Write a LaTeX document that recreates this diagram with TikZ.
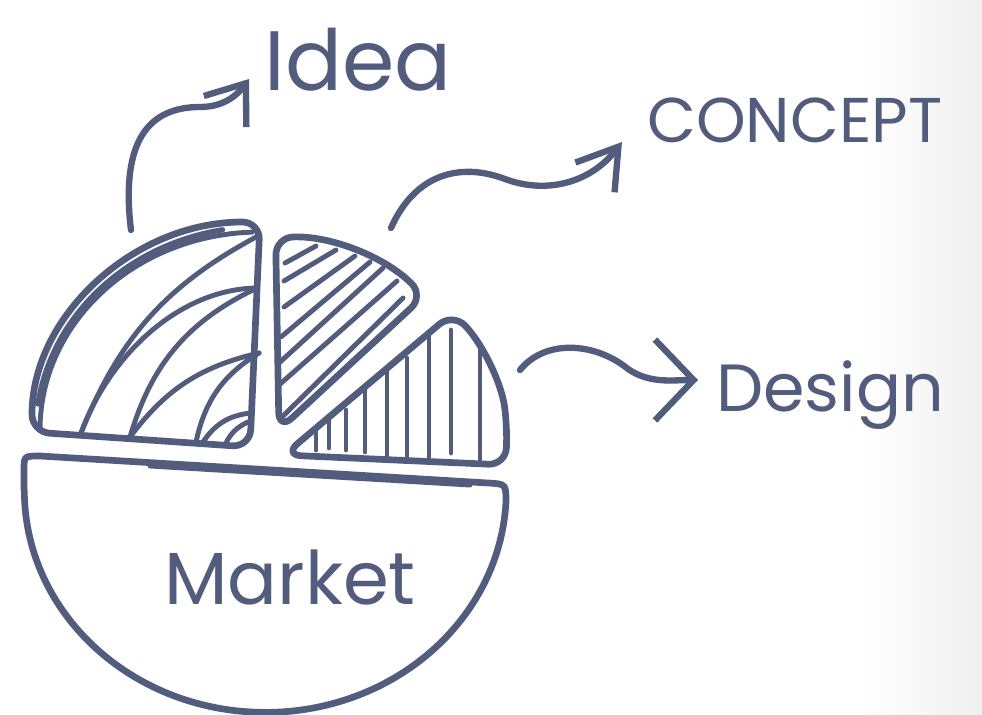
\documentclass[tikz,border=0pt]{standalone}
\usepackage{fontspec}
\setmainfont{Poppins}
\usetikzlibrary{arrows.meta}
\definecolor{ink}{RGB}{82,92,124}

\begin{document}
\begin{tikzpicture}[x=0.1mm, y=0.1mm]
  \tikzset{outline/.style = {draw=ink, line width=1.9pt, line cap=round,
                             line join=round, rounded corners=5pt},
           hatch/.style   = {draw=ink, line width=1.4pt, line cap=round},
           link/.style    = {draw=ink, line width=1.8pt, line cap=round},
           word/.style    = {text=ink, inner sep=0pt}}

\fill[white] (0,0) rectangle (982,714);
\shade[left color=white, right color=black!6] (860,0) rectangle (982,714);
\useasboundingbox (0,0) rectangle (982,714);

% slice idea
\draw[outline] (250,267) -- (32,282)
    arc[start angle=180, end angle=90, x radius=228, y radius=210]
    -- cycle;
\draw[outline, line width=1.5pt] (38,310)
    arc[start angle=172, end angle=100, x radius=226, y radius=206];
\draw[hatch] (40,284) arc[start angle=180, end angle=92, x radius=220, y radius=198];
\draw[hatch] (81,281) to[bend left=20] (258,478);
\draw[hatch] (81,281) .. controls (110,360) and (180,425) .. (257,426);
\draw[hatch] (130,277) to[bend left=24] (257,426);
\draw[hatch] (130,277) to[bend left=20] (259,361);
\draw[hatch] (196,272) to[bend left=23] (259,361);
\draw[hatch] (203,272) to[bend left=25] (251,301);
\draw[hatch] (225,269) to[bend left=20] (248,292);

% slice concept
\draw[outline] (279,284) -- (424,418)
    arc[start angle=45, end angle=92, radius=200]
    -- cycle;
\foreach \xa/\ya/\xb/\yb in {285/451/316/468, 284/433/336/464, 284/407/355/458,
                             281/377/370/452, 279/351/383/446, 279/329/397/433,
                             282/297/403/416}
  \draw[hatch] (\xa,\ya) -- (\xb,\yb);

% slice design
\draw[outline] (284,259) -- (506,249) -- (507,290)
    arc[start angle=8, end angle=44, radius=200]
    -- cycle;
\foreach \x/\lo/\hi in {316/264/283, 329/266/294, 346/264/304, 365/262/324,
                        387/259/344, 407/256/356, 429/257/377, 451/261/384,
                        480/254/364}
  \draw[hatch] (\x,\lo) -- (\x,\hi);

% slice market
\draw[outline, sharp corners] (24,224) -- (24,244) .. controls (24,258) .. (40,258)
    -- (488,231) .. controls (506,230) .. (506,212)
    arc[start angle=-3, end angle=-180, x radius=241, y radius=222]
    -- cycle;
\draw[outline, line width=1.4pt] (150,248) -- (470,229);

% labels
\node[word] (idea)    at (358,654) {\fontsize{24}{28}\selectfont Idea};
\node[word] (concept) at (795,594) {\fontsize{18}{22}\selectfont CONCEPT};
\node[word] (design)  at (830,319) {\fontsize{19}{23}\selectfont Design};
\node[word] (market)  at (290,136) {\fontsize{21}{25}\selectfont Market};

% arrows
\coordinate (ideaFrom)    at (131,484);
\coordinate (ideaTo)      at (249,635);
\coordinate (conceptFrom) at (391,486);
\coordinate (conceptTo)   at (622,572);
\coordinate (designFrom)  at (520,344);
\coordinate (designTo)    at (698,334);

\draw[link, -{Straight Barb[length=10pt, width=15pt]}] (ideaFrom)
    .. controls (120,575) and (150,607) .. (200,607)
    .. controls (225,607) and (238,620) .. (ideaTo);
\draw[link, -{Straight Barb[length=11pt, width=14pt]}] (conceptFrom)
    .. controls (415,540) and (460,552) .. (505,535)
    .. controls (545,520) and (590,530) .. (conceptTo);
\draw[link, -{Straight Barb[length=11pt, width=23pt]}] (designFrom)
    .. controls (545,375) and (595,372) .. (628,345)
    .. controls (650,330) and (672,334) .. (designTo);
\end{tikzpicture}
\end{document}
